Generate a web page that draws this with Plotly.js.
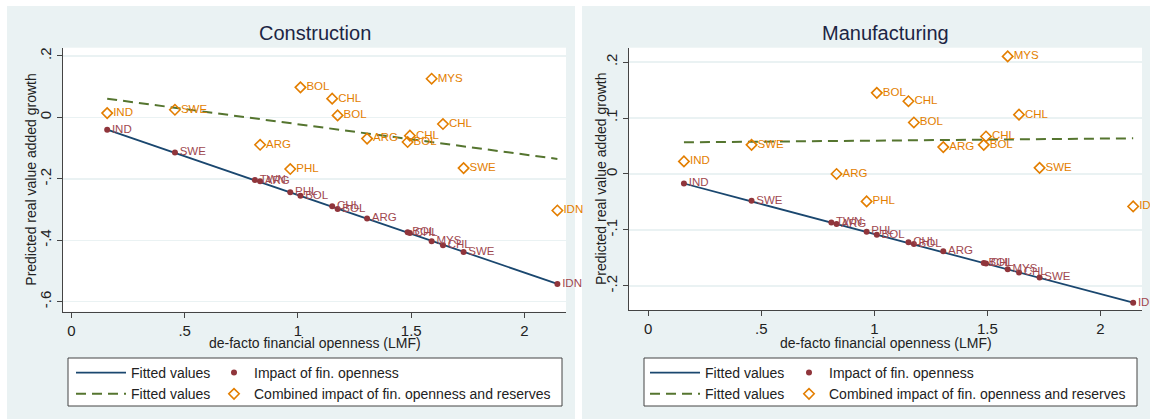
<!DOCTYPE html>
<html>
<head>
<meta charset="utf-8">
<script src="https://cdn.plot.ly/plotly-3.0.1.min.js"></script>
<style>html,body{margin:0;padding:0;background:#fff;}#chart{width:1150px;height:419px;}</style>
</head>
<body>
<div id="chart"></div>
<script>
// ---- data ----
const countries = ['IND','SWE','TWN','ARG','PHL','BOL','CHL','BOL','ARG','BOL','CHL','MYS','CHL','SWE','IDN'];
const openness  = [0.158,0.457,0.810,0.833,0.966,1.011,1.151,1.175,1.305,1.484,1.494,1.590,1.640,1.731,2.145];

const conImpact   = [-0.040,-0.114,-0.204,-0.208,-0.244,-0.255,-0.289,-0.298,-0.329,-0.374,-0.376,-0.403,-0.416,-0.438,-0.542];
const conCombined = [0.014,0.025,null,-0.089,-0.168,0.098,0.061,0.0065,-0.069,-0.080,-0.0595,0.126,-0.0215,-0.165,-0.303];
const conFitImpactY   = [-0.040,-0.542];
const conFitCombinedY = [0.061,-0.135];

const manImpact   = [-0.017,-0.048,-0.0866,-0.0895,-0.103,-0.1086,-0.122,-0.125,-0.138,-0.159,-0.160,-0.170,-0.176,-0.185,-0.230];
const manCombined = [0.0225,0.052,null,0.0,-0.049,0.145,0.130,0.092,0.048,0.052,0.067,0.210,0.106,0.011,-0.058];
const manFitImpactY   = [-0.017,-0.230];
const manFitCombinedY = [0.0565,0.0637];

const fitX = [0.158,2.145];

const xTickVals = [0,0.5,1,1.5,2];
const xTickText = ['0','.5','1','1.5','2'];
const conYTickVals = [0.2,0,-0.2,-0.4,-0.6];
const conYTickText = ['.2','0','-.2','-.4','-.6'];
const manYTickVals = [0.2,0.1,0,-0.1,-0.2];
const manYTickText = ['.2','.1','0','-.1','-.2'];

const panelTitles = ['Construction','Manufacturing'];
const xTitle = 'de-facto financial openness (LMF)';
const yTitle = 'Predicted real value added growth';
const legendNames = ['Fitted values','Impact of fin. openness','Fitted values','Combined impact of fin. openness and reserves'];

// ---- styling ----
const W = 1150, H = 419;
const FONT = 'Liberation Sans, Arial, sans-serif';
const NAVY = '#1a476f', MAROON = '#90353b', GREEN = '#55752f', ORANGE = '#e37e00';
const BG = '#eaf2f3';
const px = v => v / W;
const py = v => 1 - v / H;

function panelTraces(impact, combined, fitImpY, fitCombY, xa, ya, lgA, lgB) {
  return [
    {x: fitX, y: fitImpY, mode: 'lines', name: legendNames[0], xaxis: xa, yaxis: ya, legend: lgA,
     line: {color: NAVY, width: 1.8}, hoverinfo: 'skip'},
    {x: fitX, y: fitCombY, mode: 'lines', name: legendNames[2], xaxis: xa, yaxis: ya, legend: lgA,
     line: {color: GREEN, width: 2, dash: '10px,6px'}, hoverinfo: 'skip'},
    {x: openness, y: impact, text: countries, mode: 'markers+text', name: legendNames[1], xaxis: xa, yaxis: ya, legend: lgB,
     textposition: 'middle right', cliponaxis: false,
     textfont: {family: FONT, size: 11.5, color: '#a0484f'},
     marker: {color: MAROON, size: 6, symbol: 'circle'}},
    {x: openness, y: combined, text: countries.map((c, i) => combined[i] === null ? '' : c), mode: 'markers+text', name: legendNames[3], xaxis: xa, yaxis: ya, legend: lgB,
     textposition: 'middle right', cliponaxis: false,
     textfont: {family: FONT, size: 11.5, color: ORANGE},
     marker: {color: ORANGE, size: 8, symbol: 'diamond-open', line: {width: 1.6, color: ORANGE}}}
  ];
}

const data = [
  ...panelTraces(conImpact, conCombined, conFitImpactY, conFitCombinedY, 'x', 'y', 'legend', 'legend2'),
  ...panelTraces(manImpact, manCombined, manFitImpactY, manFitCombinedY, 'x2', 'y2', 'legend3', 'legend4')
];

function xAxis(domain, range, anchor) {
  return {domain, range, anchor, tickvals: xTickVals, ticktext: xTickText,
    ticks: 'outside', ticklen: 5, tickwidth: 1, tickcolor: '#444',
    showline: true, linecolor: '#444', linewidth: 1, showgrid: false, zeroline: false,
    tickfont: {family: FONT, size: 15, color: '#222'}, automargin: false, fixedrange: true};
}
function yAxis(domain, range, anchor, vals, text) {
  return {domain, range, anchor, tickvals: vals, ticktext: text, tickangle: -90,
    ticks: 'outside', ticklen: 5, tickwidth: 1, tickcolor: '#444',
    showline: true, linecolor: '#444', linewidth: 1,
    showgrid: true, gridcolor: BG, gridwidth: 1.5, zeroline: false,
    tickfont: {family: FONT, size: 15, color: '#222'}, automargin: false, fixedrange: true};
}

function legendAt(left, itemwidth) {
  return {x: px(left), xanchor: 'left', y: py(357), yanchor: 'top', orientation: 'v',
    bgcolor: 'rgba(0,0,0,0)', borderwidth: 0, itemwidth: itemwidth,
    font: {family: FONT, size: 14, color: '#222'}, tracegroupgap: 0};
}

const ann = (text, x, y, size, extra) => Object.assign({text, x: px(x), y: py(y), xref: 'paper', yref: 'paper',
  xanchor: 'center', yanchor: 'middle', showarrow: false, font: {family: FONT, size, color: '#222'}}, extra || {});

const layout = {
  width: W, height: H,
  margin: {l: 0, r: 0, t: 0, b: 0, autoexpand: false},
  paper_bgcolor: BG, plot_bgcolor: '#ffffff',
  showlegend: true,
  font: {family: FONT},
  xaxis:  xAxis([px(63), px(566)], [-0.037, 2.183], 'y'),
  yaxis:  yAxis([py(311.7), py(47.7)], [-0.6325, 0.227], 'x', conYTickVals, conYTickText),
  xaxis2: xAxis([px(629), px(1142)], [-0.085, 2.184], 'y2'),
  yaxis2: yAxis([py(310), py(47.7)], [-0.243, 0.2256], 'x2', manYTickVals, manYTickText),
  legend:  legendAt(71, 50),
  legend2: legendAt(214, 30),
  legend3: legendAt(645, 50),
  legend4: legendAt(789, 30),
  shapes: [
    {type: 'rect', xref: 'paper', yref: 'paper', x0: 0, x1: px(7), y0: 0, y1: 1, fillcolor: '#fff', line: {width: 0}, layer: 'below'},
    {type: 'rect', xref: 'paper', yref: 'paper', x0: 0, x1: 1, y0: py(6), y1: 1, fillcolor: '#fff', line: {width: 0}, layer: 'below'},
    {type: 'rect', xref: 'paper', yref: 'paper', x0: px(575), x1: px(582), y0: 0, y1: 1, fillcolor: '#fff', line: {width: 0}, layer: 'below'},
    {type: 'rect', xref: 'paper', yref: 'paper', x0: px(68), x1: px(562), y0: py(406), y1: py(358), fillcolor: '#fff', line: {width: 1, color: '#444'}, layer: 'below'},
    {type: 'rect', xref: 'paper', yref: 'paper', x0: px(644), x1: px(1137), y0: py(406), y1: py(358), fillcolor: '#fff', line: {width: 1, color: '#444'}, layer: 'below'}
  ],
  annotations: [
    ann(panelTitles[0], 314.5, 33, 20, {font: {family: FONT, size: 20, color: '#1c2544'}}),
    ann(panelTitles[1], 885.5, 33, 20, {font: {family: FONT, size: 20, color: '#1c2544'}}),
    ann(xTitle, 314.5, 343, 14),
    ann(xTitle, 885.5, 343, 14),
    ann(yTitle, 31, 179.7, 14, {textangle: -90}),
    ann(yTitle, 601, 179, 14, {textangle: -90})
  ]
};

Plotly.newPlot('chart', data, layout, {displayModeBar: false, staticPlot: true});
</script>
</body>
</html>
